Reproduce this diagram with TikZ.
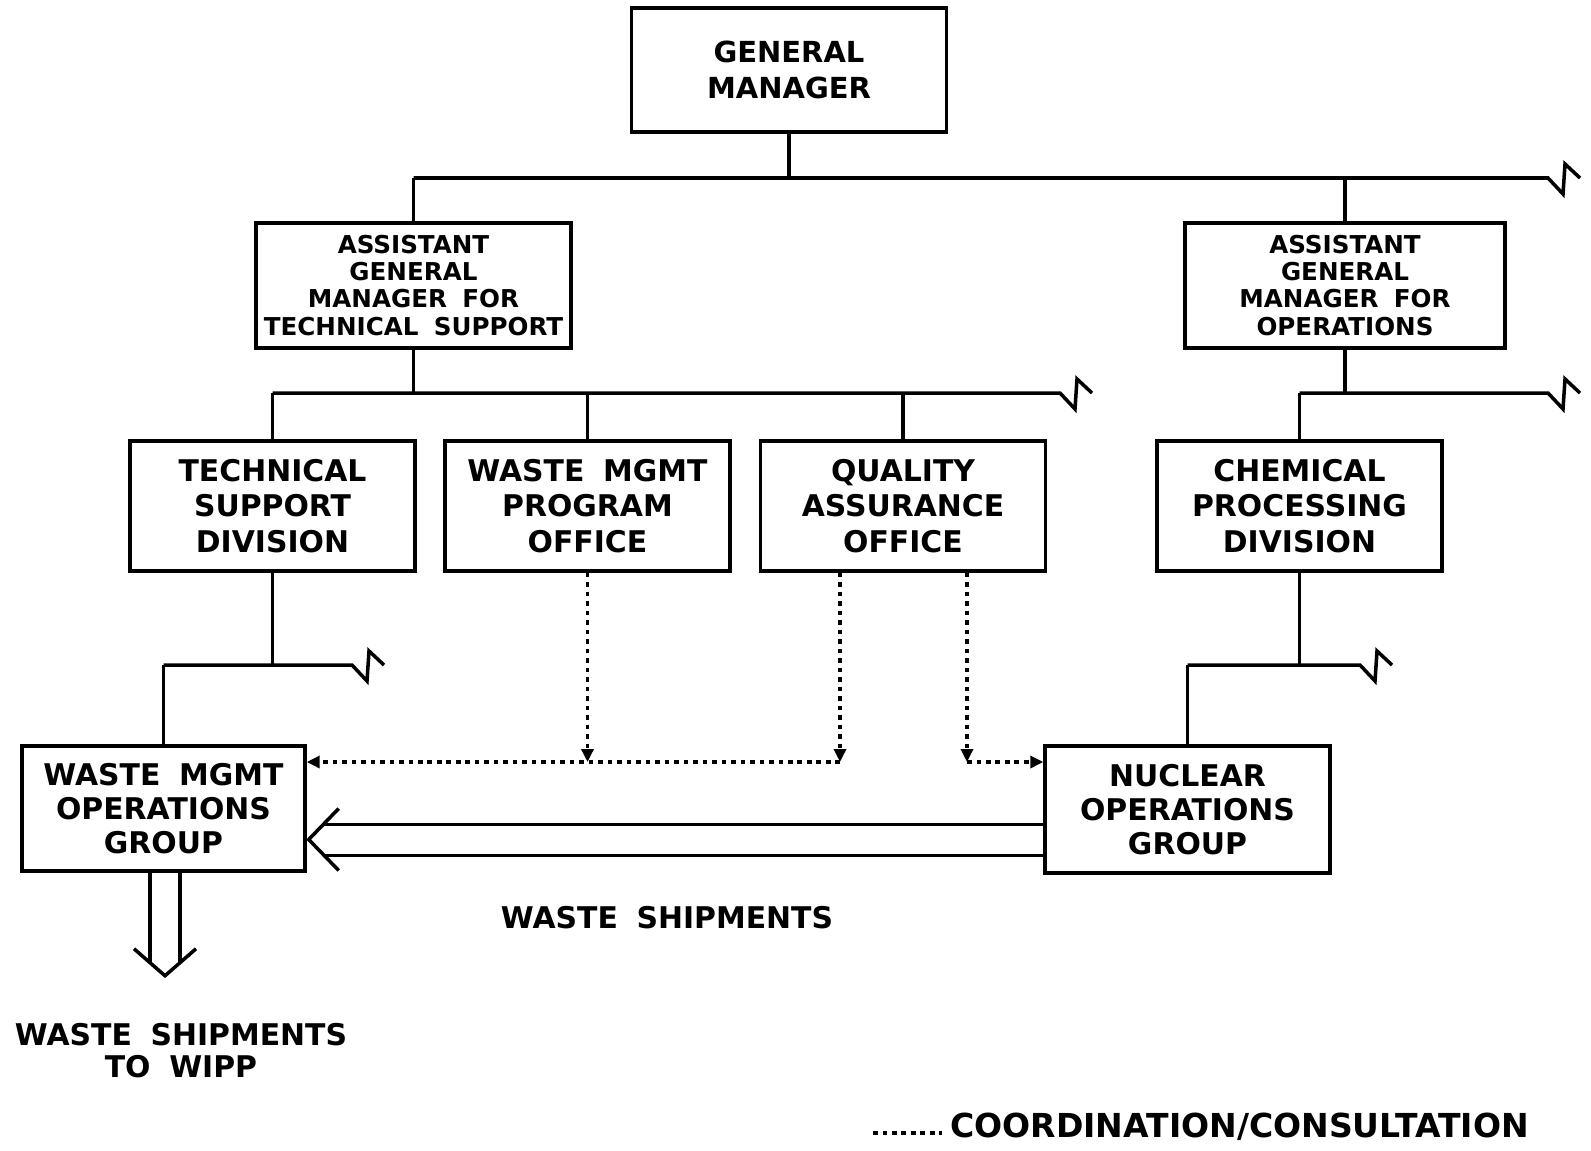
\documentclass[tikz,border=0pt]{standalone}
\usepackage{fontspec}
\setmainfont{DejaVu Sans}[WordSpace=1.8]
\usetikzlibrary{calc,arrows.meta}

\tikzset{
    office/.style={draw, line width=2pt, align=center, inner sep=0pt,
        minimum width=5.7cm, minimum height=2.6cm,
        font=\fontsize{17}{20}\selectfont\bfseries},
    link/.style={line width=2pt},
    coord/.style={line width=2pt, dash pattern=on 2.6pt off 2.8pt},
    tip/.style={-{Triangle[length=0.26cm,width=0.24cm]}},
    caption/.style={align=center, inner sep=0pt, font=\fontsize{17}{18.2}\selectfont\bfseries}
}
% broken line end
\newcommand\zigzag{-- ++(15,16) -- ++(2,-30) -- ++(15,14)}

\begin{document}
\begin{tikzpicture}[x=0.02cm, y=-0.02cm]
    \useasboundingbox (0,0) rectangle (1591,1150);

    % boxes
        \node[office, minimum width=6.3cm, minimum height=2.48cm,
            font=\fontsize{16.5}{20}\selectfont\bfseries] (gm) at (789,70) {GENERAL\\MANAGER};
        \node[office, minimum width=6.3cm, minimum height=2.5cm,
            font=\fontsize{14}{15.4}\selectfont\bfseries] (agmts) at (413.5,285.5)
            {ASSISTANT\\GENERAL\\MANAGER FOR\\TECHNICAL SUPPORT};
        \node[office, minimum width=6.4cm, minimum height=2.5cm,
            font=\fontsize{14}{15.4}\selectfont\bfseries] (agmops) at (1345,285.5)
            {ASSISTANT\\GENERAL\\MANAGER FOR\\OPERATIONS};
        \node[office] (tsd) at (272.5,506) {TECHNICAL\\SUPPORT\\DIVISION};
        \node[office] (wmpo) at (587.5,506) {WASTE MGMT\\PROGRAM\\OFFICE};
        \node[office] (qao) at (903,506) {QUALITY\\ASSURANCE\\OFFICE};
        \node[office] (cpd) at (1299.5,506) {CHEMICAL\\PROCESSING\\DIVISION};
        \node[office, minimum width=5.66cm, minimum height=2.5cm,
            font=\fontsize{17}{19.4}\selectfont\bfseries] (wmog) at (163.5,808.5)
            {WASTE MGMT\\OPERATIONS\\GROUP};
        \node[office, minimum height=2.54cm,
            font=\fontsize{17}{19.4}\selectfont\bfseries] (nog) at (1187.5,809.5)
            {NUCLEAR\\OPERATIONS\\GROUP};

    % bus levels
        \coordinate (b1) at (0,178);
        \coordinate (b2) at (0,393);
        \coordinate (b3) at (0,665);

    % top level
    \draw[link] (gm.south) -- (gm.south |- b1);
    \draw[link] (agmts.north |- b1) -- (1548,178) \zigzag;
    \draw[link] (agmts.north) -- (agmts.north |- b1);
    \draw[link] (agmops.north) -- (agmops.north |- b1);

    % technical support branch
    \draw[link] (agmts.south) -- (agmts.south |- b2);
    \draw[link] (tsd.north |- b2) -- (1060,393) \zigzag;
    \draw[link] (tsd.north) -- (tsd.north |- b2);
    \draw[link] (wmpo.north) -- (wmpo.north |- b2);
    \draw[link] (qao.north) -- (qao.north |- b2);

    % operations branch
    \draw[link] (agmops.south) -- (agmops.south |- b2);
    \draw[link] (cpd.north |- b2) -- (1548,393) \zigzag;
    \draw[link] (cpd.north) -- (cpd.north |- b2);

    % groups
    \draw[link] (tsd.south) -- (tsd.south |- b3);
    \draw[link] (wmog.north |- b3) -- (352,665) \zigzag;
    \draw[link] (wmog.north) -- (wmog.north |- b3);
    \draw[link] (cpd.south) -- (cpd.south |- b3);
    \draw[link] (nog.north |- b3) -- (1360,665) \zigzag;
    \draw[link] (nog.north) -- (nog.north |- b3);

    % coordination lines
        \coordinate (dline) at (0,762);
        \coordinate (qL) at ($(qao.south)+(-63,0)$);
        \coordinate (qR) at ($(qao.south)+(64,0)$);
    \draw[coord, tip] (wmpo.south) -- (wmpo.south |- dline);
    \draw[coord, tip] (qL) -- (qL |- dline);
    \draw[coord, tip] (qR) -- (qR |- dline);
    \draw[coord, tip] (qL |- dline) -- (wmog.east |- dline);
    \draw[coord, tip] (qR |- dline) -- (nog.west |- dline);

    % waste shipments between groups
        \coordinate (tipL) at ($(wmog.east)+(2,31)$);
        \coordinate (sU) at ($(tipL)+(15,-15)$);
        \coordinate (sD) at ($(tipL)+(15,16)$);
    \draw[link] (tipL) ++(30,-31) -- (tipL) -- ++(30,31);
    \draw[link] (nog.west |- sU) -- (sU);
    \draw[link] (nog.west |- sD) -- (sD);
    \node[caption] (ship) at (667,918) {WASTE SHIPMENTS};

    % shipments to WIPP
        \coordinate (tipD) at ($(wmog.south)+(1.5,103)$);
        \coordinate (sL) at ($(tipD)+(-15,-14)$);
        \coordinate (sR) at ($(tipD)+(15,-14)$);
    \draw[link] (tipD) ++(-31,-27) -- (tipD) -- ++(31,-27);
    \draw[link] (sL |- wmog.south) -- (sL);
    \draw[link] (sR |- wmog.south) -- (sR);
    \node[caption] (wipp) at (181,1051) {WASTE SHIPMENTS\\TO WIPP};

    % legend
    \node[caption, anchor=base west, font=\fontsize{18.8}{20}\selectfont\bfseries] (legend) at (950,1137) {COORDINATION/CONSULTATION};
        \coordinate (legdash) at (873,1133);
    \draw[coord] (legdash) -- ($(legend.base west)+(-8,-4)$);
\end{tikzpicture}
\end{document}
